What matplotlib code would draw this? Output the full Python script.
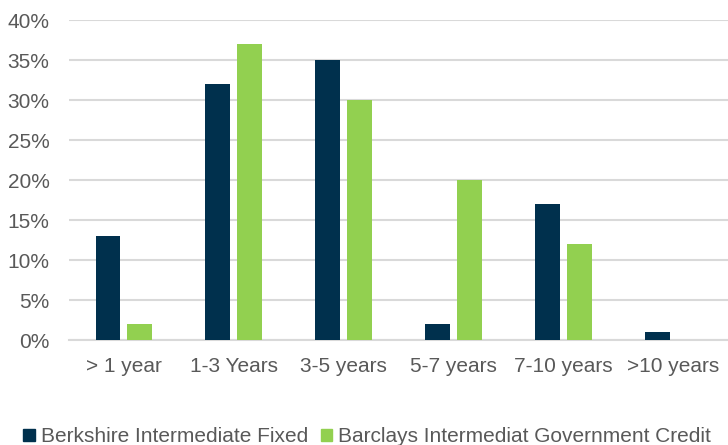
import matplotlib
matplotlib.use("Agg")
import matplotlib.pyplot as plt
import numpy as np
from matplotlib.patches import Patch
from matplotlib.ticker import FuncFormatter

categories = ["> 1 year", "1-3 Years", "3-5 years", "5-7 years", "7-10 years", ">10 years"]
berkshire = [13, 32, 35, 2, 17, 1]
barclays = [2, 37, 30, 20, 12, 0]
series_names = ["Berkshire Intermediate Fixed", "Barclays Intermediat Government Credit"]
yticks = [0, 5, 10, 15, 20, 25, 30, 35, 40]

navy = "#00304d"
green = "#92d050"
text_c = "#595959"
grid_c = "#d9d9d9"

plt.rcParams['font.family'] = ['Liberation Sans', 'DejaVu Sans']

fig = plt.figure(figsize=(7.28, 4.45), dpi=100)
ax = fig.add_axes([69/728, 105/445, 1 - 69/728, 320/445])

x = np.arange(len(categories))
w = 0.227
off = 0.145
ax.bar(x - off, berkshire, width=w, color=navy, zorder=3)
ax.bar(x + off, barclays, width=w, color=green, zorder=3)

ax.set_xlim(-0.5, len(categories) - 0.5)
ax.set_ylim(0, 40)
ax.set_yticks(yticks)
ax.yaxis.set_major_formatter(FuncFormatter(lambda v, p: f"{int(v)}%"))
ax.set_xticks(x)
ax.set_xticklabels(categories)
ax.tick_params(axis='both', length=0, labelsize=15, colors=text_c)
ax.tick_params(axis='x', pad=12)
ax.tick_params(axis='y', pad=14)
ax.grid(axis='y', color=grid_c, linewidth=1.5, zorder=0)
for s in ["top", "right", "left"]:
    ax.spines[s].set_visible(False)
ax.spines["bottom"].set_color(grid_c)
ax.spines["bottom"].set_linewidth(1.5)

handles = [Patch(color=navy), Patch(color=green)]
fig.legend(handles, series_names, loc="lower left", bbox_to_anchor=(0.006, -0.045),
           ncol=2, frameon=False, fontsize=15, labelcolor=text_c,
           handlelength=0.55, handleheight=0.55, handletextpad=0.3, columnspacing=0.6)

fig.savefig("out.png", dpi=100)
